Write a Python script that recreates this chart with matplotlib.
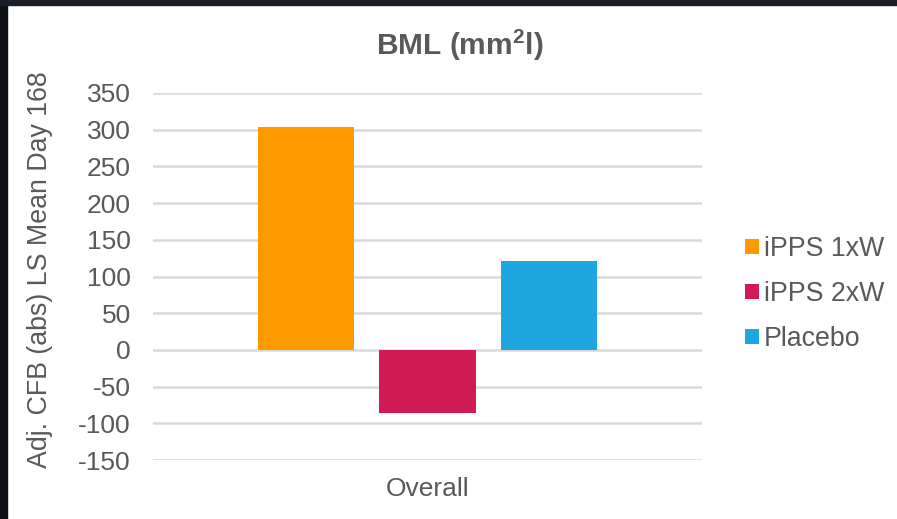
import matplotlib.pyplot as plt
from matplotlib.patches import Rectangle
import numpy as np

plt.rcParams['font.family'] = ['Liberation Sans', 'DejaVu Sans']

# LS mean change from baseline at day 168
series = ['iPPS 1xW', 'iPPS 2xW', 'Placebo']
values = [304, -86, 121]
colors = ['#FF9900', '#D01A53', '#1DA7DE']
category = 'Overall'
yticks = np.arange(-150, 351, 50)

grey = '#595959'
fig = plt.figure(figsize=(8.97, 5.19), dpi=100)

# dark frame around the slide
fig.patches.append(Rectangle((0, 0), 7/897, 1, transform=fig.transFigure,
                             color='#0e1016', zorder=-1))
fig.patches.append(Rectangle((0, 1 - 5/519), 1, 5/519, transform=fig.transFigure,
                             color='#1b1d2a', zorder=-1))

ax = fig.add_axes([153/897, 1 - 460/519, 549/897, 367/519])
width = 0.175
offsets = [-0.221, 0, 0.221]
for name, v, c, off in zip(series, values, colors, offsets):
    ax.bar(0.5 + off, v, width, color=c, label=name, zorder=2)

ax.set_xlim(0, 1)
ax.set_ylim(-150, 350)
ax.set_yticks(yticks)
ax.set_yticklabels([str(t) for t in yticks], fontsize=19, color=grey)
ax.set_xticks([0.5])
ax.set_xticklabels([category], fontsize=19, color=grey)
ax.tick_params(axis='y', length=0, pad=16)
ax.tick_params(axis='x', length=0, pad=12)
ax.yaxis.grid(True, color='#d9d9d9', linewidth=1.8, zorder=0)
for s in ax.spines.values():
    s.set_visible(False)

ax.set_ylabel('Adj. CFB (abs) LS Mean Day 168', fontsize=19.3, color=grey)
ax.yaxis.set_label_coords(-100/549, 0.52)

fig.text(460/897, 1 - 45/519, 'BML (mm$^\\mathregular{2}$l)', ha='center', va='center',
         fontsize=21.5, fontweight='bold', color=grey)

leg = ax.legend(loc='center left', bbox_to_anchor=(721/897, 1 - 294/519),
                bbox_transform=fig.transFigure, frameon=False, fontsize=19.3,
                handlelength=0.5, handleheight=0.5, handletextpad=0.2,
                labelspacing=0.7, labelcolor=grey)

fig.savefig('out.png', dpi=100, facecolor='white')
